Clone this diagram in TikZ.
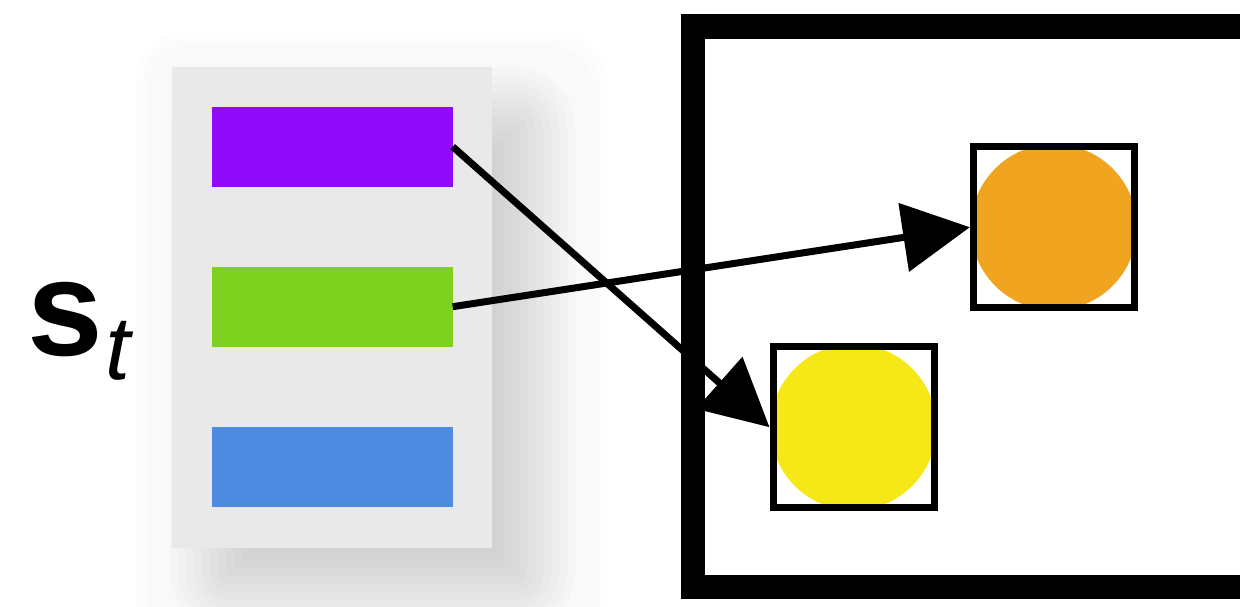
\documentclass[tikz,border=0pt]{standalone}
\usepackage{fontspec}
\setmainfont{Liberation Sans}
\usetikzlibrary{arrows.meta}
\definecolor{cpurple}{HTML}{8F0BF9}
\definecolor{cgreen}{HTML}{7ED21F}
\definecolor{cblue}{HTML}{4E8BE0}
\definecolor{corange}{HTML}{F0A420}
\definecolor{cyellow}{HTML}{F6E716}
\definecolor{cpanel}{HTML}{E9E9E9}
\begin{document}
\begin{tikzpicture}[x=1pt,y=-1pt,
  bar/.style={rectangle, draw=none, inner sep=0pt, outer sep=0pt, minimum width=241pt, minimum height=80pt},
  boxn/.style={rectangle, draw=black, line width=7pt, inner sep=0pt, minimum size=161pt},
  dot/.style={circle, draw=none, inner sep=0pt, minimum size=166pt},
  conn/.style={draw=black, line width=7pt, -{Triangle[length=67pt,width=68pt]}},
  shadowlayer/.style={fill=black, opacity=0.017},
  halolayer/.style={fill=black, opacity=0.009}]
\clip (0,0) rectangle (1240,606);
\useasboundingbox (0,0) rectangle (1240,606);
% faint halo
\foreach \h in {0,6,12}{
  \fill[halolayer, rounded corners=45pt] (136+\h,33+\h) rectangle (606-\h,660);
}
% blurred drop shadow
\foreach \i in {0,...,12}{
  \pgfmathsetmacro\e{60-8*\i}
  \pgfmathsetmacro\r{max(\e,2)}
  \fill[shadowlayer, rounded corners=\r pt] (230-\e,128-\e) rectangle (515+\e,572+\e);
}
% panel
\node[rectangle, fill=cpanel, inner sep=0pt, outer sep=0pt, minimum width=320.6pt, minimum height=481pt] (panel) at (332,307.2) {};
\node[bar, fill=cpurple] (p) at (332.2,146.7) {};
\node[bar, fill=cgreen] (g) at (332.2,306.7) {};
\node[bar, fill=cblue] (b) at (332.2,467) {};
% frame
\draw[line width=24.5pt] (693,26.5) rectangle (1300,587);
% dots and boxes
\node[dot, fill=cyellow] (yc) at (853.5,427.2) {};
\node[boxn] (yb) at (yc) {};
\node[dot, fill=corange] (oc) at (1053.9,227.2) {};
\node[boxn] (ob) at (oc) {};
% connectors
\draw[conn] (p.east) -- (yb.west);
\draw[conn] (g.east) -- (ob.west);
% label
\node[anchor=base west, inner sep=0pt] (st) at (27,355) {\fontsize{136}{136}\selectfont\bfseries s\hspace{3pt}\raisebox{-24pt}{\fontsize{90}{90}\selectfont\mdseries\itshape t}};
\end{tikzpicture}
\end{document}
